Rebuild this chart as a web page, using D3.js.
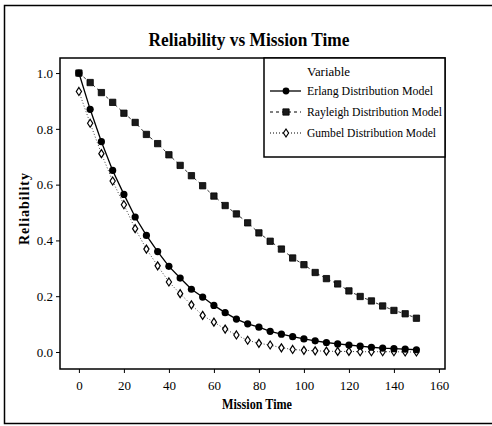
<!DOCTYPE html>
<html>
<head>
<meta charset="utf-8">
<script src="https://cdn.jsdelivr.net/npm/d3@7"></script>
<style>
    body { margin: 0; background: #fff; }
    text { font-family: "Liberation Serif", "DejaVu Serif", serif; fill: #000; }
</style>
</head>
<body>
<div id="chart"></div>
<script>
var times = [0, 5, 10, 15, 20, 25, 30, 35, 40, 45, 50, 55, 60, 65, 70, 75,
    80, 85, 90, 95, 100, 105, 110, 115, 120, 125, 130, 135, 140, 145, 150];

var erlang = [1.0, 0.87, 0.754, 0.651, 0.565, 0.484, 0.418, 0.36, 0.307, 0.265, 0.225,
    0.197, 0.167, 0.141, 0.118, 0.101, 0.089, 0.074, 0.064, 0.055, 0.047,
    0.04, 0.034, 0.029, 0.025, 0.021, 0.017, 0.014, 0.012, 0.010, 0.008];

var rayleigh = [1.0, 0.966, 0.93, 0.895, 0.856, 0.823, 0.78, 0.747, 0.707, 0.669, 0.632,
    0.596, 0.559, 0.525, 0.495, 0.463, 0.427, 0.397, 0.369, 0.337, 0.313,
    0.285, 0.263, 0.244, 0.219, 0.199, 0.183, 0.165, 0.149, 0.137, 0.121];

var gumbel = [0.934, 0.82, 0.711, 0.613, 0.528, 0.442, 0.369, 0.309, 0.251, 0.209, 0.169,
    0.131, 0.107, 0.082, 0.061, 0.042, 0.031, 0.025, 0.015, 0.009, 0.006,
    0.004, 0.003, 0.002, 0.002, 0.001, 0.001, 0.001, 0.001, 0.0, 0.0];

var seriesNames = ["Erlang Distribution Model", "Rayleigh Distribution Model", "Gumbel Distribution Model"];
var xTicks = [0, 20, 40, 60, 80, 100, 120, 140, 160];
var yTicks = [0.0, 0.2, 0.4, 0.6, 0.8, 1.0];

function init() {
    var w = 492;
    var h = 426;
    var left = 60, right = 445, top = 58, bottom = 369;

    var svg = d3.select("#chart")
        .append("svg")
        .attr("width", w)
        .attr("height", h);

    // outer border (right side runs off the picture)
    svg.append("rect")
        .attr("x", 4.5).attr("y", 5.5)
        .attr("width", 500).attr("height", 418)
        .attr("fill", "none").attr("stroke", "#000").attr("stroke-width", 1.5);

    var xScale = d3.scaleLinear()
        .domain([-8.4, 162.7])
        .range([left, right]);

    var yScale = d3.scaleLinear()
        .domain([-0.061, 1.054])
        .range([bottom, top]);

    svg.append("text")
        .attr("x", 249)
        .attr("y", 46)
        .attr("text-anchor", "middle")
        .attr("textLength", 201)
        .attr("lengthAdjust", "spacingAndGlyphs")
        .style("font-size", "19px")
        .style("font-weight", "bold")
        .text("Reliability vs Mission Time");

    var xAxis = d3.axisBottom(xScale)
        .tickValues(xTicks)
        .tickSize(4)
        .tickFormat(d3.format("d"));

    var yAxis = d3.axisLeft(yScale)
        .tickValues(yTicks)
        .tickSize(4)
        .tickFormat(d3.format(".1f"));

    var gx = svg.append("g")
        .attr("transform", "translate(0," + bottom + ")")
        .call(xAxis);
    var gy = svg.append("g")
        .attr("transform", "translate(" + left + ",0)")
        .call(yAxis);

    [gx, gy].forEach(function (g) {
        g.select(".domain").remove();
        g.selectAll("line").attr("stroke", "#000");
        g.selectAll("text")
            .style("font-size", "13px")
            .style("font-family", "Liberation Serif, serif");
    });
    gx.selectAll("text").attr("dy", "1.1em");

    // plot frame
    svg.append("rect")
        .attr("x", left).attr("y", top)
        .attr("width", right - left).attr("height", bottom - top)
        .attr("fill", "none").attr("stroke", "#000").attr("stroke-width", 1.5);

    svg.append("text")
        .attr("transform", "translate(29,209) rotate(-90)")
        .attr("text-anchor", "middle")
        .attr("textLength", 72)
        .style("font-size", "14px")
        .style("font-weight", "bold")
        .text("Reliability");

    svg.append("text")
        .attr("x", 257)
        .attr("y", 409)
        .attr("text-anchor", "middle")
        .attr("textLength", 70)
        .attr("lengthAdjust", "spacingAndGlyphs")
        .style("font-size", "14px")
        .style("font-weight", "bold")
        .text("Mission Time");

    var line = function (vals) {
        return d3.line()
            .x(function (d, i) { return xScale(times[i]); })
            .y(function (d) { return yScale(d); })(vals);
    };

    // Gumbel
    svg.append("path")
        .attr("d", line(gumbel))
        .attr("fill", "none").attr("stroke", "#444")
        .attr("stroke-width", 1).attr("stroke-dasharray", "1,2");
    // Rayleigh
    svg.append("path")
        .attr("d", line(rayleigh))
        .attr("fill", "none").attr("stroke", "#333")
        .attr("stroke-width", 1).attr("stroke-dasharray", "3,3");
    // Erlang
    svg.append("path")
        .attr("d", line(erlang))
        .attr("fill", "none").attr("stroke", "#000")
        .attr("stroke-width", 1.3);

    var square = d3.symbol().type(d3.symbolSquare).size(40);
    var diamond = "M0,-4L2.6,0L0,4L-2.6,0Z";

    svg.selectAll(".ray")
        .data(rayleigh)
        .enter()
        .append("path")
        .attr("class", "ray")
        .attr("transform", function (d, i) { return "translate(" + xScale(times[i]) + "," + yScale(d) + ")"; })
        .attr("d", square)
        .attr("fill", "#1a1a1a").attr("stroke", "#000").attr("stroke-width", 0.8);

    svg.selectAll(".gum")
        .data(gumbel)
        .enter()
        .append("path")
        .attr("class", "gum")
        .attr("transform", function (d, i) { return "translate(" + xScale(times[i]) + "," + yScale(d) + ")"; })
        .attr("d", diamond)
        .attr("fill", "#fff").attr("stroke", "#000").attr("stroke-width", 1.2);

    svg.selectAll(".erl")
        .data(erlang)
        .enter()
        .append("circle")
        .attr("class", "erl")
        .attr("cx", function (d, i) { return xScale(times[i]); })
        .attr("cy", function (d) { return yScale(d); })
        .attr("r", 3.6)
        .attr("fill", "#000");

    // legend
    var lg = svg.append("g");
    lg.append("rect")
        .attr("x", 264).attr("y", top)
        .attr("width", right - 264).attr("height", 99)
        .attr("fill", "#fff").attr("stroke", "#000").attr("stroke-width", 1.5);
    lg.append("text")
        .attr("x", 307).attr("y", 76)
        .attr("textLength", 43)
        .attr("lengthAdjust", "spacingAndGlyphs")
        .style("font-size", "13.4px")
        .text("Variable");

    var rows = [95, 116, 137];
    var widths = [126, 135, 129];
    var dashes = [null, "3,3", "1,2"];
    seriesNames.forEach(function (name, i) {
        var y = rows[i];
        lg.append("line")
            .attr("x1", 270).attr("x2", 301)
            .attr("y1", y - 4).attr("y2", y - 4)
            .attr("stroke", "#000").attr("stroke-width", i === 0 ? 1.3 : 1)
            .attr("stroke-dasharray", dashes[i]);
        if (i === 0) {
            lg.append("circle").attr("cx", 286).attr("cy", y - 4).attr("r", 3.4).attr("fill", "#000");
        } else if (i === 1) {
            lg.append("path").attr("transform", "translate(286," + (y - 4) + ")")
                .attr("d", square).attr("fill", "#1a1a1a").attr("stroke", "#000").attr("stroke-width", 0.8);
        } else {
            lg.append("path").attr("transform", "translate(286," + (y - 4) + ")")
                .attr("d", diamond).attr("fill", "#fff").attr("stroke", "#000").attr("stroke-width", 1.2);
        }
        lg.append("text")
            .attr("x", 307).attr("y", y)
            .attr("textLength", widths[i])
            .attr("lengthAdjust", "spacingAndGlyphs")
            .style("font-size", "13.4px")
            .text(name);
    });
}

window.onload = init;
</script>
</body>
</html>
